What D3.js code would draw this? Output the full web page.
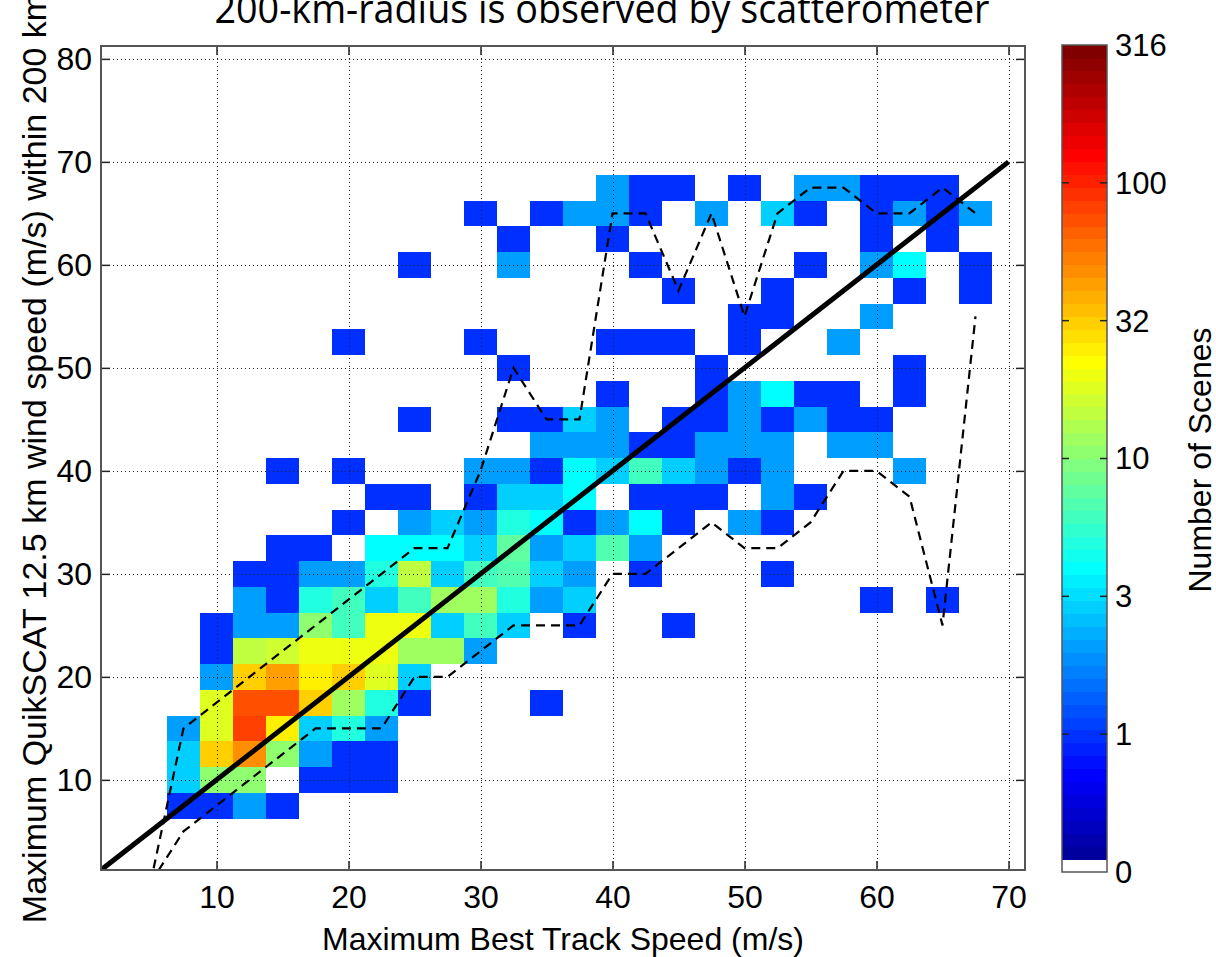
<!DOCTYPE html>
<html>
<head>
<meta charset="utf-8">
<script src="https://cdn.jsdelivr.net/npm/d3@7/dist/d3.min.js"></script>
<style>
  body { margin: 0; background: #fff; }
  text { font-family: "Liberation Sans", Arial, Helvetica, sans-serif; fill: #000; }
</style>
</head>
<body>
<svg id="chart" width="1216" height="957"></svg>
<script>
"use strict";

// 2.5 m/s bins, [best track speed, QuikSCAT speed, number of scenes]
var cells = [
  [7.5,7.5,1],[10,7.5,1],[12.5,7.5,2],[15,7.5,1],
  [7.5,10,3],[10,10,10],[12.5,10,10],[17.5,10,1],[20,10,1],[22.5,10,1],
  [7.5,12.5,3],[10,12.5,30],[12.5,12.5,48],[15,12.5,10],[17.5,12.5,2],[20,12.5,1],[22.5,12.5,1],
  [7.5,15,2],[10,15,18],[12.5,15,85],[15,15,25],[17.5,15,3],[20,15,5],[22.5,15,2],
  [10,17.5,18],[12.5,17.5,75],[15,17.5,75],[17.5,17.5,30],[20,17.5,12],[22.5,17.5,5],[25,17.5,1],[35,17.5,1],
  [10,20,2],[12.5,20,32],[15,20,42],[17.5,20,25],[20,20,30],[22.5,20,18],[25,20,3],
  [10,22.5,1],[12.5,22.5,15],[15,22.5,17],[17.5,22.5,20],[20,22.5,20],[22.5,22.5,20],[25,22.5,12],[27.5,22.5,12],[30,22.5,2],
  [10,25,1],[12.5,25,2],[15,25,2],[17.5,25,10],[20,25,6],[22.5,25,20],[25,25,20],[27.5,25,3],[30,25,6],[32.5,25,3],[37.5,25,1],[45,25,1],
  [12.5,27.5,2],[15,27.5,1],[17.5,27.5,5],[20,27.5,6],[22.5,27.5,3],[25,27.5,6],[27.5,27.5,12],[30,27.5,12],[32.5,27.5,5],[35,27.5,2],[37.5,27.5,3],[60,27.5,1],[65,27.5,1],
  [12.5,30,1],[15,30,1],[17.5,30,2],[20,30,2],[22.5,30,5],[25,30,14],[27.5,30,3],[30,30,6],[32.5,30,7],[35,30,3],[37.5,30,2],[42.5,30,1],[52.5,30,1],
  [15,32.5,1],[17.5,32.5,1],[22.5,32.5,4],[25,32.5,4],[27.5,32.5,4],[30,32.5,3],[32.5,32.5,8],[35,32.5,2],[37.5,32.5,3],[40,32.5,7],[42.5,32.5,2],
  [20,35,1],[25,35,2],[27.5,35,3],[30,35,2],[32.5,35,5],[35,35,4],[37.5,35,1],[40,35,2],[42.5,35,4],[45,35,1],[50,35,2],[52.5,35,1],
  [22.5,37.5,1],[25,37.5,1],[30,37.5,1],[32.5,37.5,3],[35,37.5,3],[37.5,37.5,4],[42.5,37.5,1],[45,37.5,1],[47.5,37.5,1],[52.5,37.5,2],[55,37.5,1],
  [15,40,1],[20,40,1],[30,40,2],[32.5,40,2],[35,40,1],[37.5,40,4],[40,40,3],[42.5,40,6],[45,40,3],[47.5,40,2],[50,40,1],[52.5,40,2],[62.5,40,2],
  [35,42.5,2],[37.5,42.5,2],[40,42.5,2],[42.5,42.5,1],[45,42.5,1],[47.5,42.5,2],[50,42.5,2],[52.5,42.5,2],[57.5,42.5,2],[60,42.5,2],
  [25,45,1],[32.5,45,1],[35,45,1],[37.5,45,3],[40,45,2],[45,45,1],[47.5,45,1],[50,45,2],[52.5,45,1],[55,45,2],[57.5,45,1],[60,45,1],
  [40,47.5,1],[47.5,47.5,1],[50,47.5,2],[52.5,47.5,4],[55,47.5,1],[57.5,47.5,1],[62.5,47.5,1],
  [32.5,50,1],[47.5,50,1],[62.5,50,1],
  [20,52.5,1],[30,52.5,1],[40,52.5,1],[42.5,52.5,1],[45,52.5,1],[50,52.5,1],[57.5,52.5,2],
  [50,55,1],[52.5,55,1],[60,55,2],
  [45,57.5,1],[52.5,57.5,1],[62.5,57.5,1],[67.5,57.5,1],
  [25,60,1],[32.5,60,2],[42.5,60,1],[55,60,1],[60,60,2],[62.5,60,4],[67.5,60,1],
  [32.5,62.5,1],[40,62.5,1],[60,62.5,1],[65,62.5,1],
  [30,65,1],[35,65,1],[37.5,65,2],[40,65,2],[42.5,65,1],[47.5,65,2],[52.5,65,3],[55,65,1],[60,65,1],[62.5,65,2],[65,65,1],[67.5,65,2],
  [40,67.5,2],[42.5,67.5,1],[45,67.5,1],[50,67.5,1],[55,67.5,2],[57.5,67.5,2],[60,67.5,1],[62.5,67.5,1],[65,67.5,1]
];

var upperLine = [[5,0],[7.5,15],[10,17.5],[12.5,20],[15,22.5],[17.5,25],[20,27.5],[22.5,30],[25,32.5],[27.5,32.5],
  [30,40],[32.5,50],[35,45],[37.5,45],[40,65],[42.5,65],[45,57.5],[47.5,65],[50,55],[52.5,65],[55,67.5],
  [57.5,67.5],[60,65],[62.5,65],[65,67.5],[67.5,65]];
var lowerLine = [[5,0],[7.5,5],[10,7.5],[12.5,10],[15,12.5],[17.5,15],[20,15],[22.5,15],[25,20],[27.5,20],
  [30,22.5],[32.5,25],[35,25],[37.5,25],[40,30],[42.5,30],[45,32.5],[47.5,35],[50,32.5],[52.5,32.5],[55,35],
  [57.5,40],[60,40],[62.5,37.5],[65,25],[67.5,55]];
var oneToOne = [[1.25,1.25],[70,70]];

var xTicks = [10, 20, 30, 40, 50, 60, 70];
var yTicks = [10, 20, 30, 40, 50, 60, 70, 80];
var cbTicks = [-0.5, 0, 0.5, 1, 1.5, 2, 2.5];          // log10(count)
var cbLabels = ["0", "1", "3", "10", "32", "100", "316"];

var binHalf = 1.25;
var plotL = 101, plotR = 1025, plotT = 46, plotB = 870;

var svg = d3.select("#chart");

var x = d3.scaleLinear().domain([1.25, 71.25]).range([plotL, plotR]);
var y = d3.scaleLinear().domain([1.25, 81.25]).range([plotB, plotT]);

// matlab jet(64), first entry white for empty bins
function u(k) { return (k < 1 || k > 47) ? 0 : k <= 16 ? k / 16 : k <= 31 ? 1 : (48 - k) / 16; }
var jet = d3.range(1, 65).map(function (i) {
  return d3.rgb(255 * u(i - 24), 255 * u(i - 8), 255 * u(i + 8)).formatHex();
});
jet[0] = "#ffffff";
var color = d3.scaleQuantize().domain([-0.5, 2.5]).range(jet);

svg.append("clipPath").attr("id", "plotClip")
  .append("rect").attr("x", plotL).attr("y", plotT).attr("width", plotR - plotL).attr("height", plotB - plotT);

// cells
svg.append("g")
  .attr("shape-rendering", "crispEdges")
  .selectAll("rect")
  .data(cells)
  .join("rect")
    .attr("x", function (d) { return x(d[0] - binHalf); })
    .attr("y", function (d) { return y(d[1] + binHalf); })
    .attr("width", function (d) { return x(d[0] + binHalf) - x(d[0] - binHalf); })
    .attr("height", function (d) { return y(d[1] - binHalf) - y(d[1] + binHalf); })
    .attr("fill", function (d) { return color(Math.log10(d[2])); });

// dotted grid
var grid = svg.append("g").attr("stroke", "#222").attr("stroke-width", 1).attr("stroke-dasharray", "1,3");
grid.selectAll(".gx").data(xTicks).join("line").attr("class", "gx")
  .attr("x1", function (d) { return Math.round(x(d)) + 0.5; })
  .attr("x2", function (d) { return Math.round(x(d)) + 0.5; })
  .attr("y1", plotT).attr("y2", plotB);
grid.selectAll(".gy").data(yTicks).join("line").attr("class", "gy")
  .attr("y1", function (d) { return Math.round(y(d)) + 0.5; })
  .attr("y2", function (d) { return Math.round(y(d)) + 0.5; })
  .attr("x1", plotL).attr("x2", plotR);

// lines
var line = d3.line().x(function (d) { return x(d[0]); }).y(function (d) { return y(d[1]); });
var lines = svg.append("g").attr("clip-path", "url(#plotClip)").attr("fill", "none").attr("stroke", "#000");
lines.append("path").datum(oneToOne).attr("d", line).attr("stroke-width", 5);
lines.append("path").datum(upperLine).attr("d", line).attr("stroke-width", 2.2).attr("stroke-dasharray", "9,6");
lines.append("path").datum(lowerLine).attr("d", line).attr("stroke-width", 2.2).attr("stroke-dasharray", "9,6");

// axes, inward ticks on all sides
function styleAxis(g) {
  g.selectAll(".domain").remove();
  g.selectAll(".tick line").attr("stroke", "#222").attr("stroke-width", 1.5);
  g.selectAll("text").attr("font-size", 32).attr("font-family", "Liberation Sans, Arial, sans-serif").attr("fill", "#000");
}
svg.append("g").attr("transform", "translate(0," + plotB + ")")
  .call(d3.axisBottom(x).tickValues(xTicks).tickSize(-9).tickSizeOuter(0).tickPadding(15))
  .call(styleAxis);
svg.append("g").attr("transform", "translate(0," + plotT + ")")
  .call(d3.axisTop(x).tickValues(xTicks).tickSize(-9).tickSizeOuter(0).tickFormat(""))
  .call(styleAxis);
svg.append("g").attr("transform", "translate(" + plotL + ",0)")
  .call(d3.axisLeft(y).tickValues(yTicks).tickSize(-9).tickSizeOuter(0).tickPadding(9))
  .call(styleAxis);
svg.append("g").attr("transform", "translate(" + plotR + ",0)")
  .call(d3.axisRight(y).tickValues(yTicks).tickSize(-9).tickSizeOuter(0).tickFormat(""))
  .call(styleAxis);

svg.append("rect")
  .attr("x", plotL).attr("y", plotT).attr("width", plotR - plotL).attr("height", plotB - plotT)
  .attr("fill", "none").attr("stroke", "#555").attr("stroke-width", 2);

// labels
svg.append("text")
  .attr("x", (plotL + plotR) / 2).attr("y", 950)
  .attr("text-anchor", "middle").attr("font-size", 32)
  .text("Maximum Best Track Speed (m/s)");

svg.append("text")
  .attr("transform", "translate(46," + ((plotT + plotB) / 2) + ") rotate(-90)")
  .attr("text-anchor", "middle").attr("font-size", 34)
  .text("Maximum QuikSCAT 12.5 km wind speed (m/s) within 200 km");

svg.append("text")
  .attr("x", 602).attr("y", 23)
  .attr("text-anchor", "middle").attr("font-size", 40)
  .attr("textLength", 775).attr("lengthAdjust", "spacingAndGlyphs")
  .style("font-family", "'Open Sans', 'Noto Sans', sans-serif")
  .text("200-km-radius is observed by scatterometer");

// colorbar
var cbL = 1062, cbR = 1107, cbT = 45, cbB = 872;
var cbScale = d3.scaleLinear().domain([-0.5, 2.5]).range([cbB, cbT]);
var bandH = (cbB - cbT) / jet.length;

var cb = svg.append("g");
cb.append("g").attr("shape-rendering", "crispEdges")
  .selectAll("rect")
  .data(jet)
  .join("rect")
    .attr("x", cbL)
    .attr("y", function (d, i) { return cbB - (i + 1) * bandH; })
    .attr("width", cbR - cbL)
    .attr("height", bandH + 0.6)
    .attr("fill", function (d) { return d; });

cb.append("rect")
  .attr("x", cbL).attr("y", cbT).attr("width", cbR - cbL).attr("height", cbB - cbT)
  .attr("fill", "none").attr("stroke", "#555").attr("stroke-width", 1.5);

var innerTicks = cbTicks.slice(1, -1);
cb.selectAll(".tl").data(innerTicks).join("line").attr("class", "tl")
  .attr("x1", cbL).attr("x2", cbL + 7)
  .attr("y1", function (d) { return cbScale(d); }).attr("y2", function (d) { return cbScale(d); })
  .attr("stroke", "#222").attr("stroke-width", 1.5);
cb.selectAll(".tr").data(innerTicks).join("line").attr("class", "tr")
  .attr("x1", cbR - 7).attr("x2", cbR)
  .attr("y1", function (d) { return cbScale(d); }).attr("y2", function (d) { return cbScale(d); })
  .attr("stroke", "#222").attr("stroke-width", 1.5);

cb.selectAll(".cbl").data(cbTicks).join("text").attr("class", "cbl")
  .attr("x", 1115)
  .attr("y", function (d) { return cbScale(d); })
  .attr("dy", "0.35em")
  .attr("font-size", 31)
  .text(function (d, i) { return cbLabels[i]; });

svg.append("text")
  .attr("transform", "translate(1211,460) rotate(-90)")
  .attr("text-anchor", "middle").attr("font-size", 32)
  .text("Number of Scenes");
</script>
</body>
</html>
